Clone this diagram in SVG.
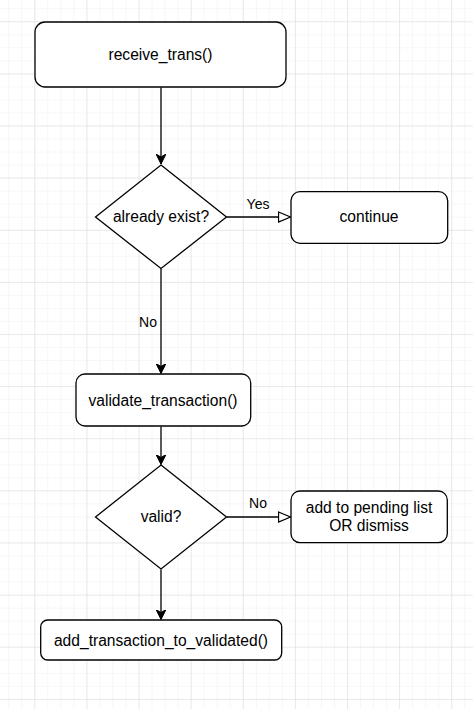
<svg xmlns="http://www.w3.org/2000/svg" width="473" height="709" viewBox="0 0 473 709">
<defs>
<pattern id="minor" x="34.3" y="21.3" width="13.03" height="13.03" patternUnits="userSpaceOnUse">
<path d="M0 0V13.03M0 0H13.03" fill="none" stroke="#efefef" stroke-width="1"/>
</pattern>
<pattern id="major" x="34.3" y="21.3" width="52.12" height="52.12" patternUnits="userSpaceOnUse">
<path d="M0 0V52.12M0 0H52.12" fill="none" stroke="#dcdcdc" stroke-width="1"/>
</pattern>
<marker id="classic" viewBox="0 0 10 10" refX="10" refY="5" markerWidth="10" markerHeight="10" markerUnits="userSpaceOnUse" orient="auto">
<path d="M0 0L10 5L0 10L3 5Z" fill="#000" stroke="#000" stroke-width="1"/>
</marker>
<marker id="block" viewBox="0 0 14 12" refX="13" refY="6" markerWidth="14" markerHeight="12" markerUnits="userSpaceOnUse" orient="auto">
<path d="M1 1L13 6L1 11Z" fill="#fff" stroke="#000" stroke-width="1.3"/>
</marker>
</defs>
<style>
.box{fill:#fff;stroke:#000;stroke-width:1.3}
.t{font-family:"Liberation Sans",Arial,sans-serif;font-size:15.6px;fill:#000;text-anchor:middle;dominant-baseline:central}
.lbl{font-family:"Liberation Sans",Arial,sans-serif;font-size:14px;fill:#000;text-anchor:middle;dominant-baseline:central}
.edge{fill:none;stroke:#000;stroke-width:1.3}
</style>
<rect width="473" height="709" fill="#fff"/>
<rect width="473" height="709" fill="url(#minor)"/>
<rect width="473" height="709" fill="url(#major)"/>
<g id="connectors">
<path class="edge" d="M161 87.5V164" marker-end="url(#classic)"/>
<path class="edge" d="M226.5 217H290.5" marker-end="url(#block)"/>
<text class="lbl" x="258" y="204">Yes</text>
<path class="edge" d="M161 268.5V373.5" marker-end="url(#classic)"/>
<text class="lbl" x="148" y="322">No</text>
<path class="edge" d="M161 426.5V464.5" marker-end="url(#classic)"/>
<path class="edge" d="M226.5 517H290.5" marker-end="url(#block)"/>
<text class="lbl" x="258" y="503">No</text>
<path class="edge" d="M161 569.5V619.5" marker-end="url(#classic)"/>
</g>
<g id="receive">
<rect class="box" x="35" y="22" width="251" height="65" rx="10"/>
<text class="t" x="160.5" y="54.5">receive_trans()</text>
</g>
<g id="exist">
<path class="box" d="M161 165L226.5 217L161 268.5L95.5 217Z"/>
<text class="t" x="161" y="216">already exist?</text>
</g>
<g id="continue">
<rect class="box" x="291" y="191.7" width="156.7" height="51.6" rx="9"/>
<text class="t" x="369" y="216.5">continue</text>
</g>
<g id="validate">
<rect class="box" x="76" y="374" width="174.7" height="52" rx="9"/>
<text class="t" x="163" y="400">validate_transaction()</text>
</g>
<g id="valid">
<path class="box" d="M161 465L226.5 517L161 569L95.5 517Z"/>
<text class="t" x="161" y="516">valid?</text>
</g>
<g id="pending">
<rect class="box" x="291" y="491" width="156.3" height="51.7" rx="9"/>
<text class="t" x="369" y="507.5">add to pending list</text>
<text class="t" x="369" y="525.5">OR dismiss</text>
</g>
<g id="addvalidated">
<rect class="box" x="40.7" y="620" width="241" height="40" rx="7"/>
<text class="t" x="161" y="640">add_transaction_to_validated()</text>
</g>
</svg>
